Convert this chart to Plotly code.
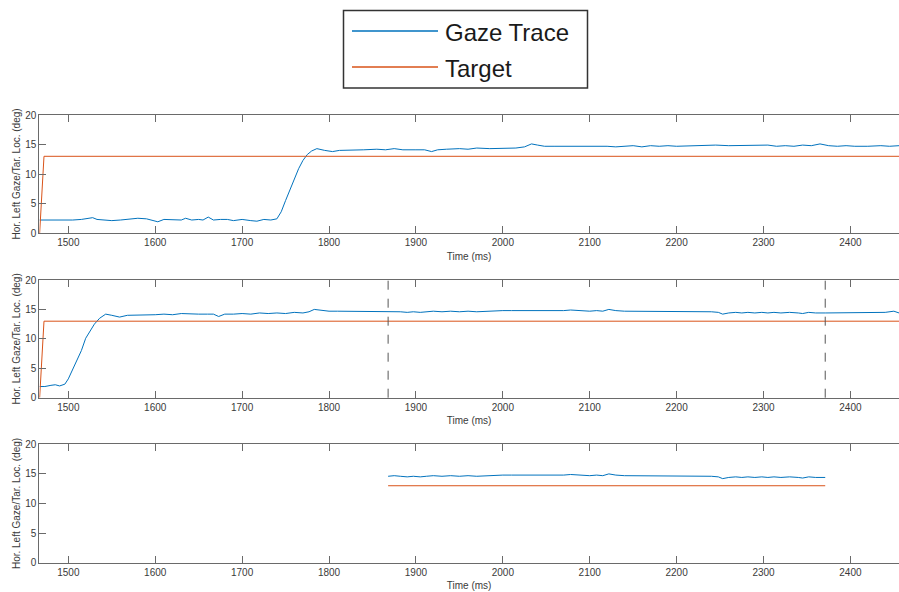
import plotly.graph_objects as go

# ---------------- data ----------------
gaze1_t = [1467, 1475, 1485, 1495, 1505, 1515, 1522, 1528, 1533, 1540, 1550, 1560, 1570, 1580,
           1590, 1597, 1603, 1610, 1620, 1630, 1635, 1642, 1650, 1655, 1661, 1667, 1675, 1683,
           1690, 1700, 1710, 1717, 1725, 1733, 1740, 1745, 1750, 1755, 1760, 1765, 1770, 1775,
           1780, 1786, 1795, 1804, 1812, 1825, 1840, 1855, 1865, 1875, 1885, 1900, 1910, 1918,
           1925, 1935, 1950, 1960, 1970, 1985, 2000, 2015, 2025, 2033, 2040, 2048, 2060, 2075,
           2090, 2105, 2120, 2130, 2140, 2150, 2160, 2170, 2180, 2190, 2200, 2215, 2230, 2245,
           2260, 2275, 2290, 2305, 2315, 2325, 2335, 2345, 2355, 2365, 2375, 2385, 2395, 2405,
           2420, 2435, 2445, 2456]
gaze1_v = [2.2, 2.2, 2.1, 2.2, 2.2, 2.3, 2.4, 2.6, 2.3, 2.2, 2.1, 2.2, 2.3, 2.5,
           2.4, 2.1, 1.9, 2.3, 2.2, 2.2, 2.5, 2.2, 2.3, 2.2, 2.7, 2.2, 2.3, 2.3,
           2.1, 2.3, 2.1, 2.0, 2.3, 2.2, 2.4, 3.6, 5.5, 7.4, 9.2, 10.9, 12.3, 13.3,
           13.9, 14.3, 14.0, 13.8, 14.0, 14.0, 14.1, 14.2, 14.1, 14.3, 14.1, 14.1, 14.1, 13.8,
           14.1, 14.2, 14.3, 14.2, 14.4, 14.3, 14.4, 14.4, 14.6, 15.1, 14.9, 14.7, 14.7, 14.7,
           14.7, 14.8, 14.7, 14.6, 14.7, 14.8, 14.6, 14.8, 14.7, 14.8, 14.7, 14.8, 14.8, 14.9,
           14.8, 14.8, 14.9, 14.9, 14.7, 14.8, 14.7, 14.9, 14.8, 15.1, 14.8, 14.7, 14.8, 14.7,
           14.7, 14.8, 14.7, 14.8]

gaze2_t = [1467, 1473, 1480, 1485, 1490, 1496, 1500, 1505, 1510, 1515, 1520, 1525, 1530, 1536,
           1543, 1550, 1559, 1568, 1580, 1590, 1600, 1610, 1620, 1630, 1640, 1650, 1660, 1667,
           1673, 1680, 1690, 1700, 1710, 1720, 1730, 1740, 1750, 1760, 1770, 1777, 1783, 1790,
           1800, 1810, 1820, 1830, 1840, 1850, 1860, 1868, 1875, 1882, 1890, 1897, 1905, 1912,
           1920, 1930, 1940, 1950, 1960, 1970, 1980, 1990, 2000, 2010, 2020, 2030, 2040, 2050,
           2060, 2070, 2078, 2085, 2092, 2100, 2108, 2115, 2122, 2130, 2140, 2150, 2160, 2170,
           2180, 2190, 2200, 2210, 2220, 2230, 2240, 2248, 2253, 2260, 2268, 2275, 2282, 2290,
           2298, 2305, 2312, 2320, 2330, 2340, 2345, 2352, 2360, 2371, 2380, 2390, 2400, 2410,
           2420, 2430, 2440, 2450, 2456]
gaze2_v = [1.9, 1.9, 2.1, 2.2, 2.0, 2.3, 3.2, 4.8, 6.5, 8.0, 10.1, 11.3, 12.5, 13.5,
           14.2, 14.0, 13.7, 14.0, 14.0, 14.1, 14.1, 14.2, 14.1, 14.3, 14.2, 14.2, 14.2, 14.2,
           13.8, 14.2, 14.2, 14.3, 14.2, 14.4, 14.3, 14.4, 14.3, 14.5, 14.4, 14.6, 15.0, 14.9,
           14.7, 14.7, 14.7, 14.7, 14.6, 14.7, 14.7, 14.6, 14.7, 14.6, 14.5, 14.6, 14.5, 14.6,
           14.7, 14.6, 14.7, 14.6, 14.7, 14.6, 14.7, 14.8, 14.8, 14.8, 14.8, 14.7, 14.8, 14.8,
           14.8, 14.8, 14.9, 14.8, 14.7, 14.7, 14.8, 14.7, 15.0, 14.8, 14.7, 14.7, 14.7, 14.6,
           14.7, 14.7, 14.7, 14.7, 14.7, 14.7, 14.6, 14.5, 14.2, 14.4, 14.5, 14.4, 14.5, 14.4,
           14.5, 14.4, 14.5, 14.4, 14.5, 14.4, 14.3, 14.5, 14.4, 14.4, 14.4, 14.4, 14.5, 14.5,
           14.4, 14.5, 14.5, 14.7, 14.4]

target_t = [1467, 1472, 2456]
target_v = [0, 13, 13]

window = [1868, 2371]          # analysis window (dashed lines, panel 3 extent)

x_range = [1466.6, 2455.9]
x_ticks = [1500, 1600, 1700, 1800, 1900, 2000, 2100, 2200, 2300, 2400]
y_ticks = [0, 5, 10, 15, 20]

labels = ["Gaze Trace", "Target"]
colors = ["#0072BD", "#D95319"]

# panel 3: data restricted to the window
def clip(ts, vs, lo, hi):
    out_t, out_v = [], []
    for t, v in zip(ts, vs):
        if lo <= t <= hi:
            out_t.append(t)
            out_v.append(v)
    return out_t, out_v

gaze3_t, gaze3_v = clip(gaze2_t, gaze2_v, window[0], window[1])
target3_t = [window[0], window[1]]
target3_v = [target_v[-1], target_v[-1]]

# ---------------- figure ----------------
W, H = 899, 592
fig = go.Figure()

panels = [
    (gaze1_t, gaze1_v, target_t, target_v),
    (gaze2_t, gaze2_v, target_t, target_v),
    (gaze3_t, gaze3_v, target3_t, target3_v),
]
# pixel tops/bottoms of plot areas
rows_px = [(115, 233), (280, 397.7), (444.3, 562.7)]

FONT = "Liberation Sans, Arial, sans-serif"
AX = "#6a6a6a"
TXT = "#3a3a3a"

for i, (gt, gv, tt, tv) in enumerate(panels):
    n = "" if i == 0 else str(i + 1)
    fig.add_trace(go.Scatter(x=gt, y=gv, mode="lines", name=labels[0],
                             line=dict(color=colors[0], width=1),
                             showlegend=False, xaxis="x" + n, yaxis="y" + n))
    fig.add_trace(go.Scatter(x=tt, y=tv, mode="lines", name=labels[1],
                             line=dict(color=colors[1], width=1),
                             showlegend=False, xaxis="x" + n, yaxis="y" + n))
    top, bot = rows_px[i]
    dom = [1 - bot / H, 1 - top / H]
    fig.update_layout(**{
        "xaxis" + n: dict(domain=[39.3 / W, 1], range=x_range, anchor="y" + n,
                          tickvals=x_ticks, ticks="inside", ticklen=7, tickcolor=AX,
                          showline=True, linecolor=AX, linewidth=1, mirror="ticks",
                          showgrid=False, zeroline=False,
                          tickfont=dict(size=10, color=TXT, family=FONT),
                          title=dict(text="Time (ms)", font=dict(size=10, color=TXT, family=FONT),
                                     standoff=5),
                          automargin=False),
        "yaxis" + n: dict(domain=dom, range=[0, 20], anchor="x" + n,
                          tickvals=y_ticks, ticks="inside", ticklen=7, tickcolor=AX,
                          showline=True, linecolor=AX, linewidth=1, mirror=False,
                          showgrid=False, zeroline=False,
                          tickfont=dict(size=10, color=TXT, family=FONT),
                          title=dict(text="Hor. Left Gaze/Tar. Loc. (deg)",
                                     font=dict(size=10, color=TXT, family=FONT), standoff=2),
                          automargin=False),
    })

# dashed window markers in panel 2
for xv in window:
    fig.add_shape(type="line", xref="x2", yref="y2 domain", x0=xv, x1=xv, y0=0, y1=1,
                  line=dict(color="#555555", width=1, dash="dash"))

# legend (drawn box with sample lines and labels)
def px(x):
    return x / W

def py(y):
    return 1 - y / H

fig.add_shape(type="rect", xref="paper", yref="paper",
              x0=px(343.5), x1=px(587.5), y0=py(88), y1=py(10.5),
              line=dict(color="#333333", width=1.5), fillcolor="white", layer="above")
for k, (lab, col, yy) in enumerate(zip(labels, colors, [31, 67])):
    fig.add_shape(type="line", xref="paper", yref="paper",
                  x0=px(352), x1=px(438), y0=py(yy), y1=py(yy),
                  line=dict(color=col, width=1.5), layer="above")
    fig.add_annotation(xref="paper", yref="paper", x=px(443), y=py(yy + 1),
                       xanchor="left", yanchor="middle", showarrow=False,
                       text=lab, font=dict(size=24, color="#1a1a1a", family=FONT))

fig.update_layout(width=W, height=H, margin=dict(l=0, r=0, t=0, b=0),
                  paper_bgcolor="white", plot_bgcolor="white", showlegend=False)

fig.write_html("out.html", config={"displayModeBar": False},
               post_script="document.body.style.margin='0';document.body.style.overflow='hidden';")
